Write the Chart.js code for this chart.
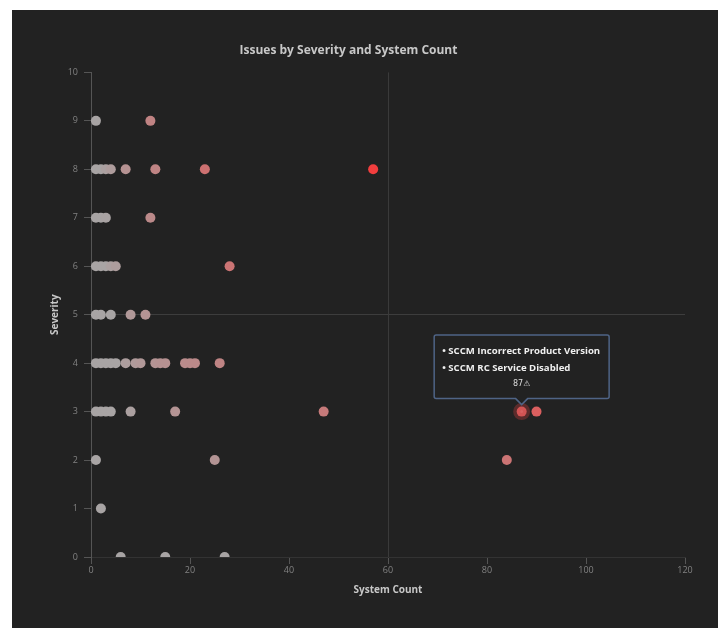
<!DOCTYPE html>
<html>
<head>
<meta charset="utf-8">
<script src="https://cdn.jsdelivr.net/npm/chart.js@4.4.1/dist/chart.umd.min.js"></script>
<style>
  html, body { margin: 0; padding: 0; background: #fff; }
  #panel {
    position: absolute; left: 12px; top: 10px;
    width: 706px; height: 618px; background: #222222;
  }
</style>
</head>
<body>
<div id="panel"><canvas id="issuesChart"></canvas></div>
<script>
// DATA
const severityLevels = [
  9, 9,
  8, 8, 8, 8, 8, 8, 8, 8,
  7, 7, 7, 7,
  6, 6, 6, 6, 6, 6,
  5, 5, 5, 5, 5,
  4, 4, 4, 4, 4, 4, 4, 4, 4, 4, 4, 4, 4, 4, 4,
  3, 3, 3, 3, 3, 3, 3, 3, 3,
  2, 2, 2,
  1,
  0, 0, 0
];
const systemCounts = [
  1, 12,
  1, 2, 3, 4, 7, 13, 23, 57,
  1, 2, 3, 12,
  1, 2, 3, 4, 5, 28,
  1, 2, 4, 8, 11,
  1, 2, 3, 4, 5, 7, 9, 10, 13, 14, 15, 19, 20, 21, 26,
  1, 2, 3, 4, 8, 17, 47, 87, 90,
  1, 25, 84,
  2,
  6, 15, 27
];
const xTicks = [0, 20, 40, 60, 80, 100, 120];
const yTicks = [0, 1, 2, 3, 4, 5, 6, 7, 8, 9, 10];
const hoveredPoint = { count: 87, severity: 3 };
const hoveredIssues = ['SCCM Incorrect Product Version', 'SCCM RC Service Disabled'];

const points = systemCounts.map((c, i) => ({ x: c, y: severityLevels[i] }));
const hoveredIndex = points.findIndex(p => p.x === hoveredPoint.count && p.y === hoveredPoint.severity);
const maxRisk = Math.max(...points.map(p => p.x * p.y));

// gray -> red by severity x count
function riskColor(p) {
  const r = Math.max(0, p.x * p.y - 20) / (maxRisk - 20);
  const t = Math.pow(Math.min(1, r), 0.7);
  const lo = [168, 164, 164], hi = [242, 62, 62];
  const c = lo.map((v, k) => Math.round(v + (hi[k] - v) * t));
  return `rgb(${c[0]},${c[1]},${c[2]})`;
}

const font = "'Open Sans', 'Noto Sans', sans-serif";

const chart = new Chart(document.getElementById('issuesChart'), {
  type: 'scatter',
  data: {
    datasets: [{
      data: points,
      pointRadius: 5,
      pointHoverRadius: 5,
      backgroundColor: ctx => riskColor(ctx.raw),
      hoverBackgroundColor: ctx => riskColor(ctx.raw),
      borderWidth: 0,
      hoverBorderWidth: 7,
      hoverBorderColor: 'rgba(200,60,60,0.35)'
    }]
  },
  options: {
    responsive: true,
    maintainAspectRatio: false,
    animation: false,
    layout: { padding: { left: 0, right: 33, top: 0, bottom: 0 } },
    scales: {
      x: {
        type: 'linear',
        min: xTicks[0],
        max: xTicks[xTicks.length - 1],
        afterBuildTicks: s => { s.ticks = xTicks.map(v => ({ value: v })); },
        afterFit: s => { s.height = 71; },
        ticks: { color: '#828282', font: { family: font, size: 9 }, padding: 1 },
        grid: {
          color: ctx => ctx.tick && ctx.tick.value === 60 ? '#3a3a3a' : 'transparent',
          tickColor: '#555',
          tickLength: 7
        },
        border: { color: '#333', width: 1 },
        title: {
          display: true, text: 'System Count', color: '#c8c8c8',
          font: { family: font, size: 10, weight: 'bold' },
          padding: { top: 0, bottom: 32 }
        }
      },
      y: {
        type: 'linear',
        min: yTicks[0],
        max: yTicks[yTicks.length - 1],
        afterBuildTicks: s => { s.ticks = yTicks.map(v => ({ value: v })); },
        afterFit: s => { s.width = 79; },
        ticks: { color: '#828282', font: { family: font, size: 9 }, padding: 6 },
        grid: {
          color: ctx => ctx.tick && ctx.tick.value === 5 ? '#3d3d3d' : 'transparent',
          tickColor: '#555',
          tickLength: 7
        },
        border: { color: '#555', width: 1 },
        title: {
          display: true, text: 'Severity', color: '#c8c8c8',
          font: { family: font, size: 10, weight: 'bold' },
          padding: { top: 37, bottom: 0 }
        }
      }
    },
    plugins: {
      legend: { display: false },
      title: {
        display: true,
        text: 'Issues by Severity and System Count',
        color: '#c8c8c8',
        font: { family: font, size: 12, weight: 'bold' },
        padding: { top: 33, bottom: 15 }
      },
      tooltip: {
        backgroundColor: '#222222',
        borderColor: '#4f6486',
        borderWidth: 1.5,
        cornerRadius: 2,
        caretSize: 6,
        caretPadding: 7,
        xAlign: 'center',
        yAlign: 'bottom',
        displayColors: false,
        padding: { top: 11, bottom: 10, left: 8, right: 9 },
        bodyFont: { family: font, size: 9.6, weight: 'bold' },
        bodyColor: '#f0f0f0',
        bodySpacing: 5,
        footerFont: { family: "'DejaVu Sans', sans-serif", size: 8, weight: 'normal' },
        footerColor: '#dddddd',
        footerAlign: 'center',
        footerMarginTop: 5,
        callbacks: {
          title: () => '',
          label: ctx => ctx.dataIndex === hoveredIndex ? hoveredIssues.map(s => '• ' + s) : [],
          footer: items => items.length ? items[0].raw.x + '⚠' : ''
        }
      }
    }
  }
});

// show the hovered point like the reference
const active = [{ datasetIndex: 0, index: hoveredIndex }];
const el = chart.getDatasetMeta(0).data[hoveredIndex];
chart.setActiveElements(active);
chart.tooltip.setActiveElements(active, { x: el.x, y: el.y });
chart.update();
</script>
</body>
</html>
